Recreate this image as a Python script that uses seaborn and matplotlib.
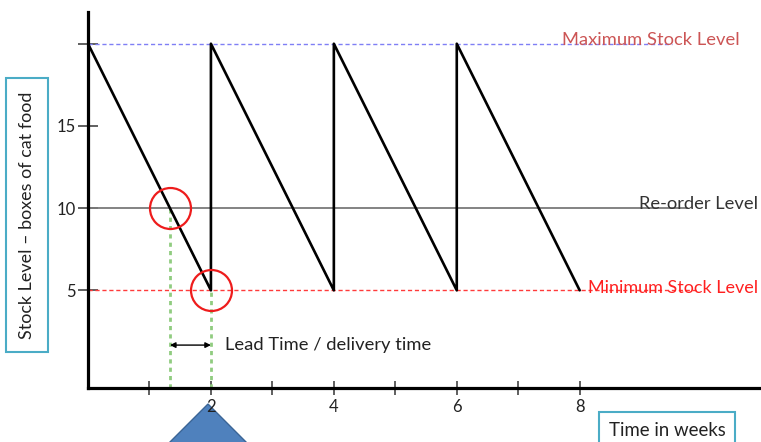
import matplotlib
matplotlib.use("Agg")
import numpy as np
import pandas as pd
import matplotlib.pyplot as plt
import seaborn as sns
from matplotlib.patches import Polygon

# ---- data ----
weeks = [0, 2, 2, 4, 4, 6, 6, 8]
stock = [20, 5, 20, 5, 20, 5, 20, 5]
max_level = 20
reorder_level = 10
min_level = 5
delivery_week = 2
x_ticks = [1, 2, 3, 4, 5, 6, 7, 8]
x_tick_labels = ["", "2", "", "4", "", "6", "", "8"]
y_ticks = [5, 10, 15, 20]
y_tick_labels = ["5", "10", "15", ""]

sns.set_style("white")
plt.rcParams["font.family"] = ["Lato", "DejaVu Sans"]

W, H = 761, 442
fig = plt.figure(figsize=(W / 100, H / 100), dpi=100)
ax = fig.add_axes([88 / W, (H - 388) / H, 1 - 88 / W, (388 - 12) / H])
ax.set_facecolor("none")

df = pd.DataFrame({"week": weeks, "stock": stock})
sns.lineplot(data=df, x="week", y="stock", sort=False, estimator=None,
             color="black", lw=1.9, ax=ax, zorder=5)

xmin, xmax = 0, 10.95
ymin, ymax = -0.94, 21.93
ax.set_xlim(xmin, xmax)
ax.set_ylim(ymin, ymax)

# reorder point = where first falling segment crosses the reorder level
t = (stock[0] - reorder_level) / (stock[0] - stock[1])
reorder_week = weeks[0] + t * (weeks[1] - weeks[0])

# reference lines
ax.plot([xmin, 9.5], [max_level] * 2, color="#7f7ff5", ls=(0, (3, 2)), lw=1, zorder=2)
ax.plot([xmin, 9.75], [reorder_level] * 2, color="#7a7a7a", lw=1.3, zorder=2)
ax.plot([xmin, 9.9], [min_level] * 2, color="#ff3b3b", ls=(0, (3, 2)), lw=1, zorder=2)

ax.text(7.72, max_level - 0.1, "Maximum Stock Level", color="#cc5555",
        fontsize=13.2, va="baseline", ha="left", zorder=7)
ax.text(8.97, reorder_level - 0.05, "Re-order Level", color="#333333",
        fontsize=13.2, va="baseline", ha="left", zorder=7)
ax.text(8.14, min_level - 0.15, "Minimum Stock Level", color="#ff2020",
        fontsize=13, va="baseline", ha="left", zorder=7)

# lead time markers
ax.vlines([reorder_week], ymin, reorder_level, color="#90cc80",
          ls=(0, (1.5, 1.5)), lw=2, zorder=3)
ax.vlines([delivery_week], ymin, min_level, color="#90cc80",
          ls=(0, (1.5, 1.5)), lw=2, zorder=3)
ax.plot([reorder_week, delivery_week], [reorder_level, min_level], ls="none",
        marker="o", ms=29.5, mfc="none", mec="#ee1c1c", mew=1.6, zorder=6)
ax.annotate("", xy=(reorder_week, 1.67), xytext=(delivery_week, 1.67),
            arrowprops=dict(arrowstyle="<|-|>", color="black", lw=1,
                            shrinkA=0, shrinkB=0, mutation_scale=8))
ax.text(delivery_week + 0.23, 1.67, "Lead Time / delivery time",
        va="center", ha="left", fontsize=13.2, color="#222222")

# axes styling
ax.set_xticks(x_ticks, x_tick_labels)
ax.set_yticks(y_ticks, y_tick_labels)
ax.tick_params(axis="both", direction="inout", width=1.2, colors="#444444",
               labelcolor="#222222", labelsize=12, bottom=True, left=True)
ax.tick_params(axis="x", length=9.5, pad=3)
ax.tick_params(axis="y", length=14, pad=2)
ax.set_xlabel("")
ax.set_ylabel("")
sns.despine(ax=ax)
for s in ("left", "bottom"):
    ax.spines[s].set_linewidth(2.3)
    ax.spines[s].set_color("black")
    ax.spines[s].set_zorder(8)

# boxed axis titles
fig.text(27 / W, 1 - 215 / H, "Stock Level \u2013 boxes of cat food", rotation=90,
         ha="center", va="center", fontsize=12.9, color="#222222",
         bbox=dict(boxstyle="square,pad=0.75", fc="white", ec="#4bacc6", lw=1.5))
fig.text(667 / W, 1 - 430 / H, "Time in weeks", ha="center", va="center",
         fontsize=13.4, color="#222222",
         bbox=dict(boxstyle="square,pad=0.5", fc="white", ec="#4bacc6", lw=1.5))

# blue arrow shape at the bottom
tri_px = [(208, 404), (146, 466), (270, 466)]
tri = Polygon([(x / W, 1 - y / H) for x, y in tri_px], closed=True,
              transform=fig.transFigure, fc="#4f81bd", ec="#3b6596", lw=1, zorder=-1)
fig.add_artist(tri)

fig.savefig("out.png", dpi=100)
